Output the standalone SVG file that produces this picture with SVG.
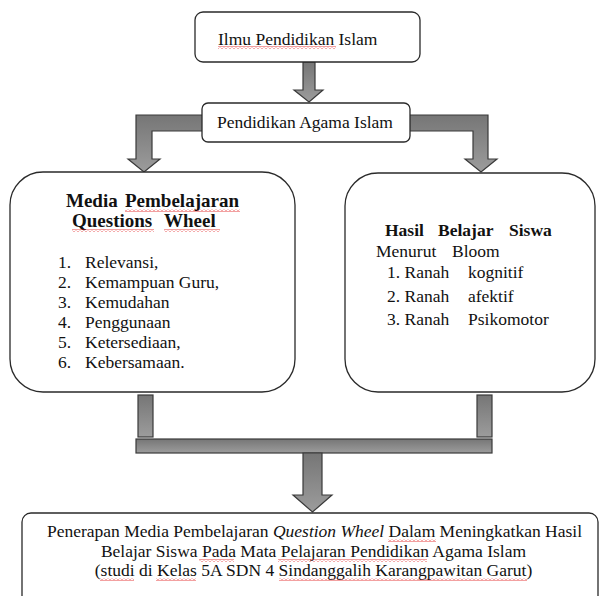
<svg xmlns="http://www.w3.org/2000/svg" width="599" height="596" viewBox="0 0 599 596">
<style>
.box{fill:#fff;stroke:#2a2a2a;stroke-width:1.3}
.bar{fill:url(#g);stroke:#3a3a3a;stroke-width:1.2;stroke-linejoin:miter}
.t{font-family:'Liberation Serif','Times New Roman','DejaVu Serif',serif;font-size:17.5px;fill:#111}
.b{font-weight:bold}
.h{font-size:19px}
.sq{fill:url(#sq)}
</style>
<defs>
<linearGradient id="g" x1="0" y1="0" x2="0" y2="1">
<stop offset="0" stop-color="#767676"/>
<stop offset="1" stop-color="#9c9c9c"/>
</linearGradient>
<pattern id="sq" patternUnits="userSpaceOnUse" width="4" height="3">
<path d="M0,2.5 L2,0.5 L4,2.5" fill="none" stroke="#e01010" stroke-width="0.8"/>
</pattern>
</defs>
<g id="connectors">
<polygon class="bar" points="303,62 315,62 315,90 323,90 309,102 294,90 303,90"/>
<polygon class="bar" points="204,115 136,115 136,159 128,159 144,172 160,159 152,159 152,131 204,131"/>
<polygon class="bar" points="408,115 488,115 488,159 497,159 481,172 465,159 473,159 473,131 408,131"/>
<rect class="bar" x="138" y="395" width="15" height="42"/>
<rect class="bar" x="477" y="395" width="15" height="42"/>
<rect class="bar" x="136" y="439" width="356" height="14"/>
<polygon class="bar" points="303,453 322,453 322,495 332,495 312.5,512 293,495 303,495"/>
</g>
<g id="node-ilmu">
<rect class="box" x="195" y="12" width="225" height="50" rx="8"/>
<text class="t" x="218" y="45">Ilmu Pendidikan Islam</text>
</g>
<g id="node-pai">
<rect class="box" x="202" y="103" width="208" height="39" rx="6"/>
<text class="t" x="217" y="128">Pendidikan Agama Islam</text>
</g>
<g id="node-media">
<rect class="box" x="10" y="172" width="285" height="220" rx="33"/>
<text class="t b h"><tspan x="66" y="207">Media</tspan><tspan x="125" y="207">Pembelajaran</tspan><tspan x="72" y="227">Questions</tspan><tspan x="164" y="227">Wheel</tspan></text>
<text class="t"><tspan x="58" y="268">1.</tspan><tspan x="85" y="268">Relevansi,</tspan><tspan x="58" y="288">2.</tspan><tspan x="85" y="288">Kemampuan Guru,</tspan><tspan x="58" y="308">3.</tspan><tspan x="85" y="308">Kemudahan</tspan><tspan x="58" y="328">4.</tspan><tspan x="85" y="328">Penggunaan</tspan><tspan x="58" y="348">5.</tspan><tspan x="85" y="348">Ketersediaan,</tspan><tspan x="58" y="368">6.</tspan><tspan x="85" y="368">Kebersamaan.</tspan></text>
</g>
<g id="node-hasil">
<rect class="box" x="345" y="173" width="250" height="219" rx="33"/>
<text class="t b"><tspan x="385" y="236">Hasil</tspan><tspan x="438" y="236">Belajar</tspan><tspan x="509" y="236">Siswa</tspan></text>
<text class="t"><tspan x="376" y="257">Menurut</tspan><tspan x="452" y="257">Bloom</tspan><tspan x="387" y="278">1. Ranah</tspan><tspan x="468" y="278">kognitif</tspan><tspan x="387" y="302">2. Ranah</tspan><tspan x="468" y="302">afektif</tspan><tspan x="387" y="325">3. Ranah</tspan><tspan x="468" y="325">Psikomotor</tspan></text>
</g>
<g id="node-penerapan">
<rect class="box" x="22" y="513" width="576" height="92" rx="9"/>
<text class="t" text-anchor="middle"><tspan x="314.5" y="537">Penerapan Media Pembelajaran <tspan font-style="italic">Question Wheel</tspan> Dalam Meningkatkan Hasil</tspan><tspan x="313.5" y="557">Belajar Siswa Pada Mata Pelajaran Pendidikan Agama Islam</tspan><tspan x="313.5" y="576">(studi di Kelas 5A SDN 4 Sindanggalih Karangpawitan Garut)</tspan></text>
</g>
<g id="spellcheck">
<rect class="sq" x="218" y="46" width="118" height="3"/>
<rect class="sq" x="125" y="209" width="115" height="3"/>
<rect class="sq" x="72" y="229" width="82" height="3"/>
<rect class="sq" x="164" y="229" width="56" height="3"/>
<rect class="sq" x="388" y="539" width="48" height="3"/>
<rect class="sq" x="199" y="559" width="35" height="3"/>
<rect class="sq" x="278" y="559" width="149" height="3"/>
<rect class="sq" x="100" y="578" width="34" height="3"/>
<rect class="sq" x="156" y="578" width="40" height="3"/>
<rect class="sq" x="279" y="578" width="248" height="3"/>
</g>
</svg>
